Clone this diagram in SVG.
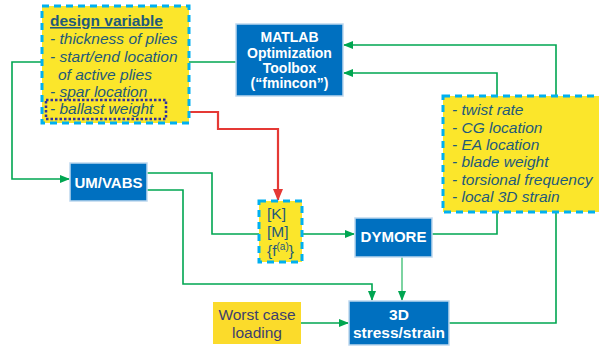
<svg xmlns="http://www.w3.org/2000/svg" width="599" height="347" viewBox="0 0 599 347">
<style>
.conn{fill:none;stroke:#00A651;stroke-width:1.6}
.red{fill:none;stroke:#E53935;stroke-width:2.2}
.blue{fill:#0070C0;stroke:#BDD7EE;stroke-width:1.5}
.yel{fill:#FBE62B;stroke:#00B0F0;stroke-width:3;stroke-dasharray:7,5}
.bt{font-family:"Liberation Sans",Arial,sans-serif;font-weight:bold;fill:#fff;text-anchor:middle}
.it{font-family:"Liberation Sans",Arial,sans-serif;font-style:italic;font-size:15.5px;fill:#1F5A7A}
.rg{font-family:"Liberation Sans",Arial,sans-serif;font-size:15.5px;fill:#1F5A7A}
</style>
<defs>
<marker id="ag" markerUnits="userSpaceOnUse" markerWidth="10" markerHeight="8" refX="9" refY="4" orient="auto"><path d="M0,0 L10,4 L0,8 z" fill="#00A651"/></marker>
<marker id="ar" markerUnits="userSpaceOnUse" markerWidth="12" markerHeight="10" refX="11" refY="5" orient="auto"><path d="M0,0 L12,5 L0,10 z" fill="#E53935"/></marker>
</defs>
<rect width="599" height="347" fill="#fff"/>
<g id="connectors">
<path class="conn" d="M42,62 H12 V179 H69" marker-end="url(#ag)"/>
<path class="conn" d="M189,62 H236"/>
<path class="conn" d="M449,323 H556 V45 H344" marker-end="url(#ag)"/>
<path class="conn" d="M432,234 H497 V73 H344" marker-end="url(#ag)"/>
<path class="conn" d="M147,173 H212 V234 H354" marker-end="url(#ag)"/>
<path class="conn" d="M147,190 H183 V284 H372 V300" marker-end="url(#ag)"/>
<path class="conn" d="M402,257 V300" stroke="#5CC98A" style="stroke:#5CC98A" marker-end="url(#ag)"/>
<path class="conn" d="M301,323 H348" marker-end="url(#ag)"/>
<path class="red" d="M166,112 H218 V129 H278 V200" marker-end="url(#ar)"/>
</g>
<g id="design-variable">
<rect class="yel" x="42" y="6" width="147" height="117"/>
<text x="50" y="26" style="font-family:'Liberation Sans',Arial,sans-serif;font-weight:bold;font-size:15.5px;fill:#1F5A7A;text-decoration:underline">design variable</text>
<text class="it" x="50" y="44">- thickness of plies</text>
<text class="it" x="50" y="62">- start/end location</text>
<text class="it" x="58" y="80">of active plies</text>
<text class="it" x="50" y="97">- spar location</text>
<text class="it" x="50" y="114">- ballast weight</text>
<rect x="46" y="100" width="120" height="19" fill="none" stroke="#33339A" stroke-width="2.5" stroke-dasharray="2.5,2"/>
</g>
<g id="matlab">
<rect class="blue" x="236" y="24" width="107" height="72"/>
<text class="bt" x="289.5" y="42" font-size="14">MATLAB</text>
<text class="bt" x="289.5" y="58" font-size="14">Optimization</text>
<text class="bt" x="289.5" y="73" font-size="14">Toolbox</text>
<text class="bt" x="289.5" y="88" font-size="14">(“fmincon”)</text>
</g>
<g id="outputs">
<rect class="yel" x="443" y="96" width="162" height="116"/>
<text class="it" x="452" y="115">- twist rate</text>
<text class="it" x="452" y="133">- CG location</text>
<text class="it" x="452" y="150">- EA location</text>
<text class="it" x="452" y="167">- blade weight</text>
<text class="it" x="452" y="185">- torsional frequency</text>
<text class="it" x="452" y="202">- local 3D strain</text>
</g>
<g id="umvabs">
<rect class="blue" x="70" y="163" width="77" height="38"/>
<text class="bt" x="108.5" y="188" font-size="15">UM/VABS</text>
</g>
<g id="kmf">
<rect class="yel" x="259" y="201" width="43" height="61"/>
<text class="rg" x="267" y="219">[K]</text>
<text class="rg" x="267" y="237">[M]</text>
<text class="rg" x="267" y="256">{f<tspan font-size="10" dy="-6">(a)</tspan><tspan dy="6">}</tspan></text>
</g>
<g id="dymore">
<rect class="blue" x="355" y="218" width="77" height="39"/>
<text class="bt" x="393.5" y="242" font-size="15">DYMORE</text>
</g>
<g id="stress">
<rect class="blue" x="349" y="301" width="100" height="44"/>
<text class="bt" x="399" y="320" font-size="15.5">3D</text>
<text class="bt" x="399" y="338" font-size="15.5">stress/strain</text>
</g>
<g id="worst-case">
<rect x="213" y="302" width="88" height="42" fill="#FBDB2B"/>
<text x="257" y="320" text-anchor="middle" style="font-family:'Liberation Sans',Arial,sans-serif;font-size:15.5px;fill:#3D3F6E">Worst case</text>
<text x="257" y="338" text-anchor="middle" style="font-family:'Liberation Sans',Arial,sans-serif;font-size:15.5px;fill:#3D3F6E">loading</text>
</g>
</svg>
